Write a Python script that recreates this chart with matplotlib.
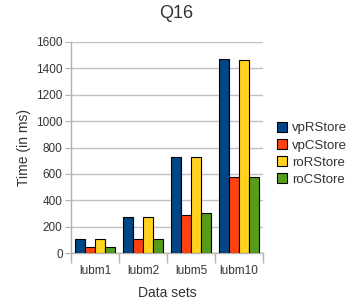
import matplotlib
matplotlib.use("Agg")
import matplotlib.pyplot as plt
import numpy as np
from matplotlib.ticker import FixedLocator

# Chart data
datasets = ["lubm1", "lubm2", "lubm5", "lubm10"]
series_names = ["vpRStore", "vpCStore", "roRStore", "roCStore"]
vp_rstore = [105, 273, 730, 1468]
vp_cstore = [45, 107, 285, 575]
ro_rstore = [105, 273, 726, 1465]
ro_cstore = [45, 107, 303, 575]
colors = ["#004586", "#ff420e", "#ffd320", "#579d1c"]

plt.rcParams["font.family"] = ["Liberation Sans", "DejaVu Sans"]

fig = plt.figure(figsize=(3.46, 3.03), dpi=100)
ax = fig.add_axes([71 / 346, 1 - 253 / 303, 192 / 346, 211 / 303])

x = np.arange(len(datasets))
width = 0.21
all_series = [vp_rstore, vp_cstore, ro_rstore, ro_cstore]
for i, (name, vals) in enumerate(zip(series_names, all_series)):
    offset = (i - 1.5) * width
    ax.bar(x + offset, vals, width, label=name, color=colors[i],
           edgecolor="black", linewidth=0.8, zorder=3)

ax.set_xlim(-0.5, len(datasets) - 0.5)
ax.set_ylim(0, 1600)
ax.set_yticks(range(0, 1601, 200))
ax.grid(axis="y", color="#c0c0c0", linewidth=1, zorder=0)

ax.set_xticks(x)
ax.set_xticklabels(datasets)
ax.xaxis.set_minor_locator(FixedLocator(np.arange(-0.5, len(datasets), 1.0)))
ax.tick_params(axis="x", which="major", length=0, pad=9, labelsize=8.5, labelcolor="#333333")
ax.tick_params(axis="x", which="minor", length=7, color="#b3b3b3", width=1)
ax.tick_params(axis="y", length=4, color="#b3b3b3", labelsize=8.5, labelcolor="#333333", pad=2)

for side in ["top", "right"]:
    ax.spines[side].set_visible(False)
for side in ["left", "bottom"]:
    ax.spines[side].set_color("#b3b3b3")
    ax.spines[side].set_linewidth(1)

ax.set_xlabel("Data sets", fontsize=10, color="#333333", labelpad=6)
ax.set_ylabel("Time (in ms)", fontsize=10, color="#333333", labelpad=4)
fig.text(176 / 346, 1 - 14 / 303, "Q16", fontsize=13, color="#333333", ha="center", va="center")

ax.legend(loc="center left", bbox_to_anchor=(1.026, 0.47), frameon=False, fontsize=9.5,
          handlelength=0.75, handleheight=0.75, handletextpad=0.35, labelspacing=0.35,
          borderaxespad=0.5, borderpad=0.2, labelcolor="#333333")

fig.savefig("out.png", dpi=100)
